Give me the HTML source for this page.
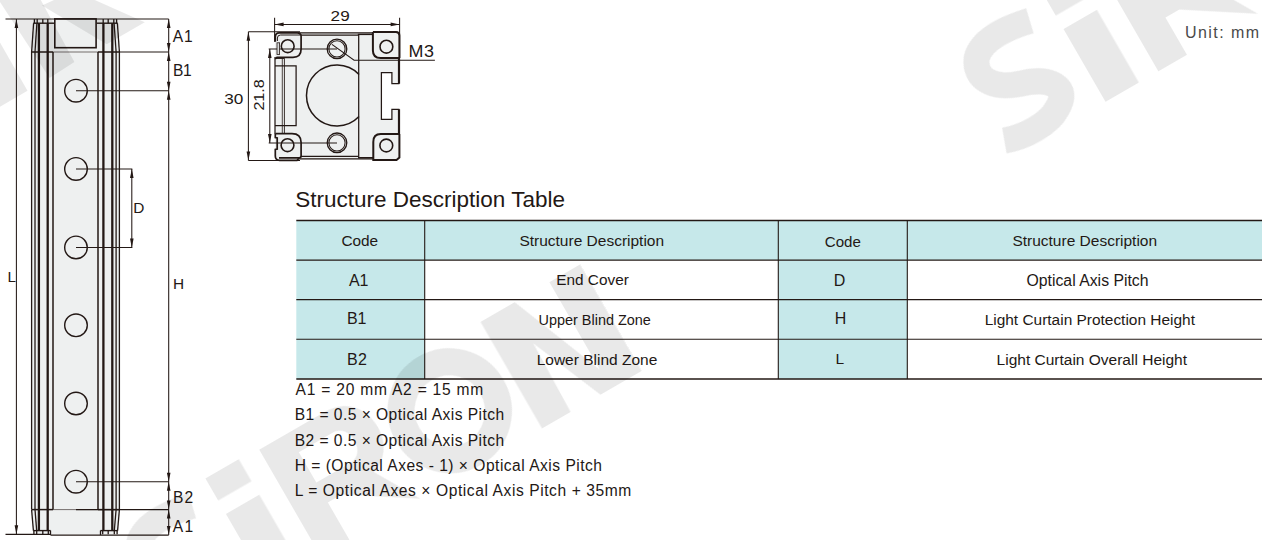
<!DOCTYPE html>
<html>
<head>
<meta charset="utf-8">
<style>
html,body{margin:0;padding:0;background:#fff;}
body{width:1263px;height:540px;overflow:hidden;font-family:"Liberation Sans",sans-serif;}
svg{display:block;position:absolute;left:0;top:0;}
text{font-family:"Liberation Sans",sans-serif;fill:#231815;}
.ln{stroke:#231815;fill:none;}
.ar{fill:#231815;stroke:none;}
</style>
</head>
<body>
<svg width="1263" height="540" viewBox="0 0 1263 540">
<defs>
  <!-- arrow pointing up, tip at 0,0 -->
  <path id="au" d="M0,0 L1.8,9 L-1.8,9 Z"/>
  <path id="ad" d="M0,0 L1.8,-9 L-1.8,-9 Z"/>
  <path id="al" d="M0,0 L9,1.8 L9,-1.8 Z"/>
  <path id="arr" d="M0,0 L-9,1.8 L-9,-1.8 Z"/>
  <g id="wm">
    <!-- SiRON logo in local coords: x right, y down, baseline y=0, cap height 123 -->
    <path d="M1,-17 C20,-10 48,-9 62,-18 C86,-30 72,-50 44,-58 C16,-67 6,-86 18,-102 C32,-117 62,-113 83,-108" fill="none" stroke="#000" stroke-width="26"/>
    <rect x="108" y="-84" width="38.5" height="84"/>
    <rect x="108" y="-125" width="38.5" height="25.5"/>
    <path fill-rule="evenodd" d="M169,0 V-123 H244 C269,-123 283,-106 283,-84 C283,-65 273,-51 257,-46.5 L284,0 L218,-43 H202 V0 Z M202,-101 H241 C251,-101 256,-93 256,-83.5 C256,-74 251,-66 241,-66 H202 Z"/>
    <ellipse cx="353.5" cy="-61.5" rx="48.5" ry="49" fill="none" stroke="#000" stroke-width="27"/>
    <path d="M424.5,0 V-123 H464 L504,-22 V-123 H539.5 V0 H492 L459.5,-78 L457.5,0 Z"/>
  </g>
</defs>

<rect x="0" y="0" width="1263" height="540" fill="#fff"/>

<!-- ================= TABLE ================= -->
<g id="table">
  <rect x="296.3" y="220.5" width="128.4" height="158.7" fill="#c6e8ea"/>
  <rect x="424.7" y="220.5" width="837.3" height="39.6" fill="#c6e8ea"/>
  <rect x="778.3" y="220.5" width="129" height="158.7" fill="#c6e8ea"/>
  <g class="ln" stroke-width="1.3">
    <line x1="296.3" y1="220.5" x2="1262" y2="220.5"/>
    <line x1="296.3" y1="260.1" x2="1262" y2="260.1"/>
    <line x1="296.3" y1="299.6" x2="1262" y2="299.6" stroke-width="1.1"/>
    <line x1="296.3" y1="339.3" x2="1262" y2="339.3" stroke-width="1.1"/>
    <line x1="296.3" y1="379" x2="1262" y2="379"/>
    <line x1="424.7" y1="220.5" x2="424.7" y2="379" stroke-width="1.1"/>
    <line x1="778.3" y1="220.5" x2="778.3" y2="379" stroke-width="1.1"/>
    <line x1="907.3" y1="220.5" x2="907.3" y2="379" stroke-width="1.1"/>
  </g>
</g>

<!-- ================= TEXT ================= -->
<g id="texts">
  <text id="t_title" x="295.3" y="206.7" font-size="22.5">Structure Description Table</text>
  <text id="t_unit" x="1185" y="37.8" font-size="16" style="fill:#4a4a4a" letter-spacing="1.45">Unit: mm</text>

  <text id="t_code1" x="341.4" y="245.7" font-size="15.4">Code</text>
  <text id="t_sd1" x="519.4" y="245.8" font-size="15.5">Structure Description</text>
  <text id="t_code2" x="824.8" y="246.7" font-size="15.1">Code</text>
  <text id="t_sd2" x="1012.4" y="245.8" font-size="15.5">Structure Description</text>

  <text id="t_a1" x="349" y="285.8" font-size="16" letter-spacing="-0.2">A1</text>
  <text id="t_b1" x="347" y="323.9" font-size="16" letter-spacing="-0.2">B1</text>
  <text id="t_b2" x="347" y="364.7" font-size="16" letter-spacing="0.4">B2</text>
  <text id="t_ec" x="556.3" y="284.6" font-size="15.35">End Cover</text>
  <text id="t_ub" x="538.5" y="324.6" font-size="14.45">Upper Blind Zone</text>
  <text id="t_lb" x="536.7" y="365.2" font-size="15.5">Lower Blind Zone</text>
  <text id="t_d" x="833.8" y="285.7" font-size="16">D</text>
  <text id="t_h" x="834.8" y="324" font-size="16">H</text>
  <text id="t_l" x="835.6" y="364" font-size="15.5">L</text>
  <text id="t_oap" x="1026.5" y="286.1" font-size="15.8">Optical Axis Pitch</text>
  <text id="t_lcp" x="984.7" y="325" font-size="15.45">Light Curtain Protection Height</text>
  <text id="t_lco" x="996.6" y="364.7" font-size="15.5">Light Curtain Overall Height</text>

  <text id="t_f1" x="295.6" y="394.7" font-size="15.6" textLength="187.7" lengthAdjust="spacing">A1 = 20 mm A2 = 15 mm</text>
  <text id="t_f2" x="294.7" y="420.3" font-size="15.6" textLength="209.5" lengthAdjust="spacing">B1 = 0.5 × Optical Axis Pitch</text>
  <text id="t_f3" x="294.7" y="446.0" font-size="15.6" textLength="209.5" lengthAdjust="spacing">B2 = 0.5 × Optical Axis Pitch</text>
  <text id="t_f4" x="294.7" y="471.3" font-size="15.6" textLength="307.3" lengthAdjust="spacing">H = (Optical Axes - 1) × Optical Axis Pitch</text>
  <text id="t_f5" x="294.7" y="496.3" font-size="15.6" textLength="336.6" lengthAdjust="spacing">L = Optical Axes × Optical Axis Pitch + 35mm</text>
</g>

<!-- ================= LEFT DRAWING ================= -->
<g id="curtain">
  <!-- fills -->
  <path d="M33.6,19 H117.4 L119.4,52 V509.6 L117.7,534.3 H33.3 L31.6,509.6 V52 Z" fill="#eef0f0"/>
  <g class="ln" stroke-width="1.05">
    <!-- extension lines -->
    <line x1="5.5" y1="19" x2="168.7" y2="19" stroke-width="1.2"/>
    <line x1="5.5" y1="534.4" x2="50.5" y2="534.4" stroke-width="1.2"/><line x1="50.5" y1="535.1" x2="168.7" y2="535.1" stroke-width="1.2"/>
    <line x1="16.4" y1="19" x2="16.4" y2="534.3"/>
    <line x1="168.7" y1="19" x2="168.7" y2="535.1"/>
    <line x1="119.4" y1="52" x2="168.7" y2="52"/>
    <line x1="76" y1="90.7" x2="168.7" y2="90.7"/>
    <line x1="76" y1="481.7" x2="168.7" y2="481.7"/>
    <line x1="76" y1="509.6" x2="168.7" y2="509.6"/>
    <line x1="76" y1="168.9" x2="132.3" y2="168.9"/>
    <line x1="76" y1="247.4" x2="132.3" y2="247.4"/>
    <line x1="131.8" y1="168.9" x2="131.8" y2="247.4"/>
    <line x1="53" y1="52" x2="98" y2="52" stroke-width="0.6"/>
    <line x1="53" y1="509.6" x2="98" y2="509.6" stroke-width="0.6"/>
  </g>
  <g class="ln" stroke-width="1.3">
    <!-- thin verticals -->
    <line x1="31.6" y1="52" x2="31.6" y2="509.6"/>
    <line x1="35" y1="52" x2="35" y2="509.6"/>
    <line x1="116.1" y1="52" x2="116.1" y2="509.6"/>
    <line x1="119.4" y1="52" x2="119.4" y2="509.6"/>
    <!-- slanted top cap -->
    <line x1="33.6" y1="23.2" x2="31.6" y2="52"/>
    <line x1="36.9" y1="23.2" x2="35" y2="52"/>
    <line x1="114.1" y1="23.2" x2="116.1" y2="52"/>
    <line x1="117.4" y1="23.2" x2="119.4" y2="52"/>
    <!-- slanted bottom cap -->
    <line x1="31.6" y1="509.6" x2="33.4" y2="530.6"/>
    <line x1="35" y1="509.6" x2="36.7" y2="530.6"/>
    <line x1="116.1" y1="509.6" x2="114.3" y2="530.6"/>
    <line x1="119.4" y1="509.6" x2="117.6" y2="530.6"/>
    <!-- rim top -->
    <line x1="33.3" y1="23.2" x2="54.4" y2="23.2" stroke-width="1.4"/>
    <line x1="96.7" y1="23.2" x2="117.7" y2="23.2" stroke-width="1.4"/>
    <line x1="34.4" y1="19" x2="34.4" y2="23.2"/>
    <line x1="37.2" y1="19" x2="37.2" y2="23.2"/>
    <line x1="42.8" y1="19" x2="42.8" y2="23.2"/>
    <line x1="47.8" y1="19" x2="47.8" y2="23.2"/>
    <line x1="103.2" y1="19" x2="103.2" y2="23.2"/>
    <line x1="108.2" y1="19" x2="108.2" y2="23.2"/>
    <line x1="113.8" y1="19" x2="113.8" y2="23.2"/>
    <line x1="116.6" y1="19" x2="116.6" y2="23.2"/>
    <!-- rim bottom -->
    <line x1="33.3" y1="530.6" x2="50.5" y2="530.6" stroke-width="1.4"/>
    <line x1="100.5" y1="530.6" x2="117.7" y2="530.6" stroke-width="1.4"/>
    <line x1="33.9" y1="530.6" x2="33.9" y2="534.3"/>
    <line x1="36.7" y1="530.6" x2="36.7" y2="534.3"/>
    <line x1="42.8" y1="530.6" x2="42.8" y2="534.3"/>
    <line x1="48.3" y1="530.6" x2="48.3" y2="534.3"/>
    <line x1="102.7" y1="530.6" x2="102.7" y2="534.3"/>
    <line x1="108.2" y1="530.6" x2="108.2" y2="534.3"/>
    <line x1="114.3" y1="530.6" x2="114.3" y2="534.3"/>
    <line x1="117.1" y1="530.6" x2="117.1" y2="534.3"/>
    <path d="M50.5,530.6 V535.1 M100.5,535.1 V530.6"/>
  </g>
  <g class="ln" stroke-width="1.5">
    <line x1="31.6" y1="52" x2="53" y2="52"/>
    <line x1="98" y1="52" x2="119.4" y2="52"/>
    <line x1="31.6" y1="509.6" x2="53" y2="509.6"/>
    <line x1="98" y1="509.6" x2="119.4" y2="509.6"/>
    <line x1="53" y1="52" x2="53" y2="509.6"/>
    <line x1="98" y1="52" x2="98" y2="509.6"/>
  </g>
  <g class="ln" stroke-width="2.3">
    <line x1="38.9" y1="23.2" x2="38.9" y2="530.6"/>
    <line x1="47.7" y1="23.2" x2="47.7" y2="530.6"/>
    <line x1="103.4" y1="23.2" x2="103.4" y2="530.6"/>
    <line x1="112.3" y1="23.2" x2="112.3" y2="530.6"/>
  </g>
  <rect x="54.8" y="18.9" width="41.3" height="28.8" class="ln" stroke-width="1.6"/>
  <g class="ln" stroke-width="1.4" fill="none">
    <circle cx="76" cy="90.7" r="11.3"/>
    <circle cx="76" cy="168.9" r="11.3"/>
    <circle cx="76" cy="247.4" r="11.3"/>
    <circle cx="76" cy="325.3" r="11.3"/>
    <circle cx="76" cy="403.5" r="11.3"/>
    <circle cx="76" cy="481.7" r="11.3"/>
  </g>
  <!-- arrows -->
  <g class="ar">
    <use href="#au" x="16.4" y="19"/><use href="#ad" x="16.4" y="534.3"/>
    <use href="#au" x="168.7" y="19"/><use href="#ad" x="168.7" y="52"/>
    <use href="#au" x="168.7" y="52"/><use href="#ad" x="168.7" y="90.7"/>
    <use href="#au" x="168.7" y="90.7"/><use href="#ad" x="168.7" y="481.7"/>
    <use href="#au" x="168.7" y="481.7"/><use href="#ad" x="168.7" y="509.6"/>
    <use href="#au" x="168.7" y="509.6"/><use href="#ad" x="168.7" y="535.1"/>
    <use href="#au" x="131.8" y="168.9"/><use href="#ad" x="131.8" y="247.4"/>
  </g>
  <text id="l_a1" x="172.8" y="41.5" font-size="15.6" letter-spacing="0.8">A1</text>
  <text id="l_b1" x="172.9" y="76.3" font-size="15.6" letter-spacing="-0.2">B1</text>
  <text id="l_h" x="173" y="289.4" font-size="15.4">H</text>
  <text id="l_d" x="133.2" y="212.8" font-size="15.4">D</text>
  <text id="l_l" x="7.6" y="281.7" font-size="15.2">L</text>
  <text id="l_b2" x="172.9" y="502.6" font-size="15.6" letter-spacing="1.2">B2</text>
  <text id="l_a1b" x="172.8" y="531.7" font-size="15.6" letter-spacing="1.2">A1</text>
</g>

<!-- ================= CROSS SECTION ================= -->
<g id="section">
  <path d="M275,37 Q275,32.6 279,32.6 H396 Q399.6,32.6 399.6,36 V83.7 H391.9 V72.6 H381.4 V119.3 H391.9 V109.3 H399.6 V156 Q399.6,159.8 396,159.8 H279 Q275,159.8 275,156 Z" fill="#eef0f0"/>
  <!-- dims -->
  <g class="ln" stroke-width="1.05">
    <line x1="274.6" y1="17.8" x2="274.6" y2="41.7"/>
    <line x1="399.6" y1="17.8" x2="399.6" y2="58"/>
    <line x1="274.6" y1="24.4" x2="399.6" y2="24.4"/>
    <line x1="248.4" y1="31.8" x2="300" y2="31.8"/>
    <line x1="248.4" y1="160.4" x2="300" y2="160.4"/>
    <line x1="248.4" y1="31.8" x2="248.4" y2="160.4"/>
    <line x1="268.7" y1="48.9" x2="337" y2="48.9"/>
    <line x1="268.7" y1="143" x2="337" y2="143"/>
    <line x1="269.8" y1="48.9" x2="269.8" y2="143"/>
    <path d="M331.9,44.4 L354.1,60.3 H434.9"/>
  </g>
  <g class="ar">
    <use href="#al" x="274.6" y="24.4"/><use href="#arr" x="399.6" y="24.4"/>
    <use href="#au" x="248.4" y="31.8"/><use href="#ad" x="248.4" y="160.4"/>
    <use href="#au" x="269.8" y="48.9"/><use href="#ad" x="269.8" y="143"/>
  </g>
  <!-- body lines -->
  <g class="ln" stroke-width="1.25">
    <line x1="298" y1="32.8" x2="373" y2="32.8"/>
    <line x1="301" y1="35" x2="358.5" y2="35"/>
    <line x1="298" y1="158.9" x2="373.3" y2="158.9"/>
    <line x1="301" y1="156.4" x2="358.5" y2="156.4"/>
    <line x1="358" y1="157.7" x2="373.3" y2="157.7" stroke-width="1.4"/>
    <line x1="358.7" y1="34.5" x2="358.7" y2="157"/>
    <line x1="357.8" y1="34.4" x2="372.9" y2="34.4" stroke-width="1.4"/>
    <line x1="275" y1="57" x2="275" y2="134"/>
    <line x1="275" y1="58.3" x2="284.4" y2="58.3"/>
    <line x1="282.3" y1="58.3" x2="282.3" y2="133.5" stroke-width="0.8"/>
    <line x1="284.4" y1="58.3" x2="284.4" y2="133.5" stroke-width="0.9"/>
    <path d="M275,65.9 H296.1 V125.7 H275"/>
    <!-- T slot -->
    <path d="M399.4,83.7 H391.9 V72.6 H381.4 V119.3 H391.9 V109.3 H399.4"/>
  </g>
  <g class="ln" stroke-width="1.5">
    <path d="M359,74.4 A30.5,30.5 0 1 0 359,116.6"/>
    <circle cx="337" cy="48.9" r="9.8" stroke-width="1.3"/>
    <circle cx="337" cy="48.9" r="8.1" stroke-width="1.05"/>
    <circle cx="337" cy="142.8" r="9.8" stroke-width="1.3"/>
    <circle cx="337" cy="142.8" r="8.1" stroke-width="1.05"/>
  </g>
  <g class="ln" stroke-width="1.6">
    <circle cx="287.7" cy="46.2" r="6.4"/>
    <circle cx="386.4" cy="46.7" r="6.4"/>
    <circle cx="287.5" cy="145.2" r="6.4"/>
    <circle cx="386.3" cy="145.5" r="6.4"/>
  </g>
  <!-- brackets -->
  <g class="ln" stroke-width="1.7">
    <path d="M275.3,41.7 V37 Q275.3,32.8 279.3,32.8 H297.2 Q301.1,32.8 301.1,36.5 V49 Q301.1,57.3 293,57.3 H277 L275.3,59"/>
    <path d="M277.4,41 V38 Q277.4,35 280.6,35 H300" stroke-width="1"/>
    <path d="M372.9,32 V50.4 Q372.9,58 380.7,58 H399" stroke-width="2"/>
    <path d="M372.9,32 H396 Q399.4,32 399.4,35.5 V58" stroke-width="2"/>
    <path d="M399,134.1 H380.7 Q373.3,134.1 373.3,142 V160 H396.5 L399.4,157.5 V134" stroke-width="2"/>
    <path d="M275.3,133.7 H292 Q301.1,133.7 301.1,142.6 V156 Q301.1,157.8 299,157.8 H279" />
    <path d="M275.3,133.7 V137.5 L277.2,138 V149 L275.3,149.5 V156 Q275.3,160.3 279.5,160.3 H297 L299,158"/>
  </g>
  <rect x="277" y="42.8" width="2.6" height="11.6" fill="#d8dada" stroke="#231815" stroke-width="0.8"/>
  <g class="ln" stroke-width="2.2">
    <line x1="399" y1="58" x2="399" y2="83.7"/>
    <line x1="399" y1="109.3" x2="399" y2="134"/>
  </g>
  <text id="s_29" transform="translate(330.6,21.4) scale(1.13,1)" font-size="15.2">29</text>
  <text id="s_30" transform="translate(224.2,104.4) scale(1.13,1)" font-size="15.2">30</text>
  <text id="s_m3" transform="translate(408.6,56.5) scale(1.15,1)" font-size="15.6" letter-spacing="0.5">M3</text>
  <text id="s_218" font-size="15.2" transform="translate(264.3,110.6) rotate(-90) scale(1.06,1)">21.8</text>
</g>

<!-- ================= WATERMARKS ================= -->
<g id="watermarks" fill="#000" opacity="0.088">
  <use href="#wm" transform="translate(174.4,640.7) rotate(-30)"/>
  <use href="#wm" transform="translate(1012,155.8) rotate(-30)"/>
</g>
<g fill="#000" fill-opacity="0.088">
  <polygon points="0,42.5 27.5,90.8 0,106.7"/>
  <polygon points="0,2 0,0 40.8,0 74.4,62 49.5,78"/>
  <polygon points="42,5.6 54,0 94.8,0 144.8,22.2 106.7,44.2"/>
</g>
</svg>
</body>
</html>
